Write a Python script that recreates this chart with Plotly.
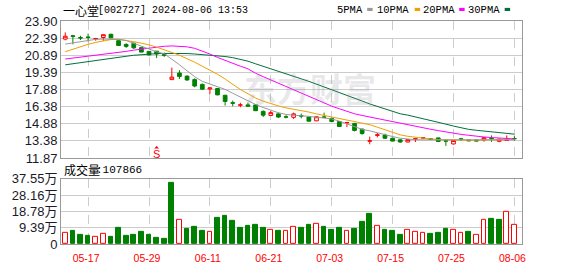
import plotly.graph_objects as go

# ---------------- data ----------------
dates = ["05-14", "05-15", "05-16", "05-17", "05-20", "05-21", "05-22", "05-23", "05-24", "05-27",
         "05-28", "05-29", "05-30", "05-31", "06-03", "06-04", "06-05", "06-06", "06-07", "06-11",
         "06-12", "06-13", "06-14", "06-17", "06-18", "06-19", "06-20", "06-21", "06-24", "06-25",
         "06-26", "06-27", "06-28", "07-01", "07-02", "07-03", "07-04", "07-05", "07-08", "07-09",
         "07-10", "07-11", "07-12", "07-15", "07-16", "07-17", "07-18", "07-19", "07-22", "07-23",
         "07-24", "07-25", "07-26", "07-29", "07-30", "07-31", "08-01", "08-02", "08-05", "08-06"]

opens = [22.31, 22.60, 22.44, 22.49, 22.33, 22.45, 22.73, 22.17, 21.84, 21.95,
         21.56, 21.23, 21.25, 20.95, 18.75, 19.33, 19.06, 18.75, 18.33, 17.93,
         17.97, 17.38, 16.72, 16.50, 16.53, 16.53, 15.96, 15.60, 15.74, 15.48,
         15.44, 15.58, 15.46, 15.13, 15.47, 15.35, 15.07, 14.95, 14.90, 14.40,
         13.34, 13.85, 13.88, 13.60, 13.46, 13.27, 13.52, 13.62, 13.55, 13.63,
         13.38, 13.10, 13.55, 13.45, 13.45, 13.45, 13.58, 13.33, 13.40, 13.58]
highs = [22.90, 22.68, 22.60, 22.79, 22.42, 22.71, 22.79, 22.20, 21.95, 22.00,
         21.60, 21.25, 21.26, 21.12, 19.81, 19.58, 19.10, 18.86, 18.41, 18.03,
         18.00, 17.40, 16.91, 16.72, 16.72, 16.60, 16.05, 16.02, 15.85, 15.63,
         15.85, 15.77, 15.50, 15.55, 15.85, 15.40, 15.10, 15.00, 14.95, 14.45,
         13.74, 14.07, 14.00, 13.65, 13.50, 13.50, 13.60, 13.70, 13.60, 13.65,
         13.48, 13.42, 13.63, 13.48, 13.48, 13.72, 13.85, 13.55, 13.85, 13.78]
lows = [22.20, 21.85, 22.23, 22.09, 22.17, 22.15, 22.40, 21.72, 21.54, 21.45,
        21.15, 20.88, 20.64, 20.75, 18.75, 18.80, 18.65, 18.08, 17.83, 17.50,
        17.38, 16.47, 16.41, 16.32, 16.40, 16.00, 15.46, 15.58, 15.38, 15.35,
        15.30, 15.35, 15.08, 15.10, 15.40, 15.00, 14.60, 14.58, 14.20, 13.90,
        13.07, 13.68, 13.55, 13.33, 13.20, 13.25, 13.27, 13.55, 13.45, 13.30,
        12.93, 13.05, 13.35, 13.35, 13.35, 13.30, 13.28, 13.25, 13.38, 13.37]
closes = [22.56, 22.55, 22.41, 22.46, 22.36, 22.70, 22.42, 21.75, 21.67, 21.54,
          21.17, 20.92, 21.00, 20.89, 18.97, 19.03, 18.72, 18.19, 17.91, 18.02,
          17.41, 16.83, 16.68, 16.53, 16.42, 16.02, 15.63, 15.85, 15.46, 15.46,
          15.74, 15.55, 15.10, 15.49, 15.44, 15.07, 14.63, 14.98, 14.29, 14.02,
          13.38, 13.90, 13.60, 13.35, 13.27, 13.48, 13.55, 13.65, 13.50, 13.32,
          13.35, 13.40, 13.50, 13.38, 13.36, 13.65, 13.55, 13.52, 13.45, 13.56]

ma5 = [21.87, 21.98, 22.10, 22.23, 22.29, 22.31, 22.31, 22.29, 22.19, 21.94,
       21.69, 21.44, 21.19, 21.02, 20.56, 20.06, 19.52, 19.01, 18.60, 18.34,
       18.09, 17.89, 17.55, 17.22, 16.88, 16.57, 16.30, 16.05, 15.84, 15.69,
       15.61, 15.57, 15.52, 15.46, 15.40, 15.30, 15.10, 14.88, 14.63, 14.38,
       14.25, 14.07, 13.90, 13.75, 13.60, 13.52, 13.47, 13.46, 13.46, 13.43,
       13.42, 13.40, 13.42, 13.42, 13.42, 13.43, 13.46, 13.46, 13.47, 13.47]
ma10 = [21.20, 21.44, 21.66, 21.85, 22.02, 22.16, 22.27, 22.29, 22.20, 22.08,
        21.95, 21.81, 21.60, 21.39, 21.14, 20.89, 20.60, 20.28, 19.93, 19.58,
        19.22, 18.80, 18.30, 17.88, 17.51, 17.13, 16.86, 16.63, 16.44, 16.27,
        16.15, 16.05, 15.90, 15.74, 15.60, 15.46, 15.34, 15.21, 15.08, 14.94,
        14.79, 14.57, 14.35, 14.10, 13.90, 13.77, 13.68, 13.60, 13.54, 13.48,
        13.46, 13.43, 13.43, 13.43, 13.44, 13.46, 13.47, 13.47, 13.48, 13.48]
ma20 = [20.56, 20.64, 20.72, 20.81, 20.88, 20.96, 21.03, 21.13, 21.23, 21.34,
        21.44, 21.54, 21.62, 21.68, 21.71, 21.70, 21.63, 21.50, 21.28, 21.00,
        20.70, 20.42, 20.16, 19.93, 19.70, 19.31, 19.01, 18.72, 18.43, 18.14,
        17.84, 17.55, 17.26, 16.97, 16.68, 16.42, 16.19, 15.96, 15.75, 15.60,
        15.46, 15.31, 15.17, 15.03, 14.90, 14.78, 14.64, 14.52, 14.39, 14.27,
        14.14, 14.04, 13.94, 13.86, 13.77, 13.71, 13.66, 13.61, 13.57, 13.54]
ma30 = [20.05, 20.15, 20.25, 20.37, 20.46, 20.55, 20.64, 20.72, 20.80, 20.89,
        20.95, 21.00, 21.03, 21.05, 21.06, 21.06, 21.04, 21.00, 20.96, 20.92,
        20.85, 20.78, 20.68, 20.55, 20.37, 20.14, 19.91, 19.68, 19.47, 19.24,
        19.02, 18.82, 18.60, 18.36, 18.14, 17.90, 17.65, 17.38, 17.13, 16.87,
        16.61, 16.40, 16.17, 15.92, 15.75, 15.63, 15.48, 15.34, 15.17, 15.00,
        14.84, 14.67, 14.50, 14.38, 14.30, 14.23, 14.17, 14.09, 14.03, 13.96]

volume = [6.4, 7.5, 5.3, 4.75, 4.0, 5.7, 4.2, 9.1, 4.75, 5.3,
          6.9, 5.3, 3.7, 3.1, 35.4, 14.0, 8.6, 9.7, 7.5, 6.9,
          15.1, 16.2, 13.5, 9.1, 10.2, 10.8, 9.1, 8.0, 7.5, 7.5,
          9.6, 9.1, 11.3, 11.9, 9.7, 8.0, 9.1, 7.5, 8.6, 13.0,
          17.3, 10.6, 8.0, 7.5, 5.3, 8.4, 6.9, 6.4, 5.8, 6.4,
          8.6, 8.4, 6.4, 6.9, 5.1, 13.9, 14.6, 14.0, 18.3, 10.79]
vol_up = [1, 0, 0, 0, 1, 1, 0, 0, 0, 0,
          0, 0, 0, 0, 0, 1, 0, 0, 0, 1,
          0, 0, 0, 0, 0, 0, 0, 1, 0, 1,
          1, 0, 0, 1, 0, 0, 0, 1, 0, 0,
          0, 1, 0, 0, 0, 1, 1, 1, 0, 0,
          0, 1, 1, 0, 1, 1, 0, 0, 1, 1]

price_ticks = [11.87, 13.38, 14.88, 16.38, 17.88, 19.39, 20.89, 22.39, 23.90]
price_tick_text = ["11.87", "13.38", "14.88", "16.38", "17.88", "19.39", "20.89", "22.39", "23.90"]
vol_ticks = [0, 9.39, 18.78, 28.16, 37.55]
vol_tick_text = ["0", "9.39万", "18.78万", "28.16万", "37.55万"]
date_ticks = dates[3::8]

title_name = "一心堂"
title_rest = "[002727] 2024-08-06 13:53"
vol_label = "成交量"
vol_last = ":107866"
ma_names = ["5PMA", "10PMA", "20PMA", "30PMA"]
ma_colors = ["#9a9a9a", "#f0a000", "#ff00ff", "#00703a"]
watermark = "东方财富"
marker_day = dates[12]

RED = "#ff0000"
GREEN = "#008000"

# ---------------- layout helpers (pixel -> paper) ----------------
W, H = 578, 276
L, R, T, B = 56, 522, 21, 255.5
PRICE_BOTTOM = 165
VOL_TOP = 187


def px(x):
    return (x - L) / (R - L)


def py(y):
    return (B - y) / (B - T)


fig = go.Figure()

# MA lines
for vals, col in zip([ma30, ma20, ma10, ma5], ma_colors[::-1]):
    fig.add_trace(go.Scatter(x=dates, y=vals, mode="lines",
                             line=dict(color=col, width=1), xaxis="x", yaxis="y",
                             hoverinfo="skip"))

fig.add_trace(go.Candlestick(
    x=dates, open=opens, high=highs, low=lows, close=closes,
    increasing=dict(line=dict(color=RED, width=1), fillcolor="white"),
    decreasing=dict(line=dict(color=GREEN, width=1), fillcolor=GREEN),
    whiskerwidth=0, xaxis="x", yaxis="y"))

fig.add_trace(go.Bar(
    x=dates, y=volume, width=0.62,
    marker=dict(color=["white" if u else GREEN for u in vol_up],
                line=dict(color=[RED if u else GREEN for u in vol_up], width=1)),
    xaxis="x2", yaxis="y2"))

axis_common = dict(showline=True, mirror=True, linecolor="#999999", linewidth=1,
                   zeroline=False, ticks="")

fig.update_layout(
    width=W, height=H,
    margin=dict(l=L, r=W - R, t=T, b=H - B, pad=0),
    paper_bgcolor="white", plot_bgcolor="white",
    showlegend=False, hovermode=False,
    bargap=0,
    xaxis=dict(domain=[0, 1], anchor="y", type="category", range=[-0.56, 60.0],
               tickvals=date_ticks, showticklabels=False, showgrid=True,
               gridcolor="#cccccc", griddash="dash", gridwidth=1,
               rangeslider=dict(visible=False), **axis_common),
    yaxis=dict(domain=[py(PRICE_BOTTOM), 1], anchor="x", range=[11.87, 23.90],
               tickvals=price_ticks, ticktext=price_tick_text, showgrid=True,
               gridcolor="#cccccc", gridwidth=1,
               tickfont=dict(family="Liberation Sans", size=13, color="#1a1a2a"),
               **axis_common),
    xaxis2=dict(domain=[0, 1], anchor="y2", type="category", range=[-0.56, 60.0],
                matches="x", tickvals=date_ticks, ticktext=date_ticks, showgrid=True,
                gridcolor="#cccccc", griddash="dash", gridwidth=1,
                tickfont=dict(family="Liberation Sans", size=10.5, color=RED),
                ticklabelshift=-2, ticklabelstandoff=4, **axis_common),
    yaxis2=dict(domain=[0, py(VOL_TOP)], anchor="x2", range=[0, 37.55],
                tickvals=vol_ticks, ticktext=vol_tick_text, showgrid=True,
                gridcolor="#cccccc", gridwidth=1,
                tickfont=dict(family="Liberation Sans, Noto Sans CJK SC", size=13, color="#1a1a2a"),
                **axis_common),
)

ann = []
# title
ann.append(dict(text=title_name, x=px(56.5), y=py(9.5), xref="paper", yref="paper",
                xanchor="left", yanchor="middle", showarrow=False,
                font=dict(family="Noto Sans CJK SC", size=12, color="#000000")))
ann.append(dict(text=title_rest, x=px(91.5), y=py(9.5), xref="paper", yref="paper",
                xanchor="left", yanchor="middle", showarrow=False,
                font=dict(family="Liberation Mono", size=10, color="#000000")))
# legend
legend_text_right = [363, 410, 456, 502]
legend_sq_left = [365.5, 413.5, 458.5, 504.5]
shapes = []
for name, col, xr, xs in zip(ma_names, ma_colors, legend_text_right, legend_sq_left):
    ann.append(dict(text=name, x=px(xr), y=py(9.5), xref="paper", yref="paper",
                    xanchor="right", yanchor="middle", showarrow=False,
                    font=dict(family="Liberation Mono", size=10.5, color="#000000")))
    shapes.append(dict(type="rect", xref="paper", yref="paper",
                       x0=px(xs), x1=px(xs + 5.5), y0=py(10.5), y1=py(7.2),
                       fillcolor=col, line=dict(width=0)))
# volume label
ann.append(dict(text=vol_label, x=px(57.5), y=py(177.5), xref="paper", yref="paper",
                xanchor="left", yanchor="middle", showarrow=False,
                font=dict(family="Noto Sans CJK SC", size=12, color="#000000")))
ann.append(dict(text=vol_last, x=px(89.5), y=py(177.5), xref="paper", yref="paper",
                xanchor="left", yanchor="middle", showarrow=False,
                font=dict(family="Liberation Mono", size=11, color="#000000")))
# watermark
ann.append(dict(text="<b>" + watermark + "</b>", x=px(308), y=py(91), xref="paper", yref="paper",
                xanchor="center", yanchor="middle", showarrow=False,
                font=dict(family="Noto Sans CJK SC", size=33, color="rgba(150,150,160,0.22)")))
# S marker with small up-arrow
ann.append(dict(text="S", x=marker_day, y=py(152.5), xref="x", yref="paper",
                ax=0, ay=8, showarrow=True, arrowhead=1, arrowsize=0.8, arrowwidth=1,
                arrowcolor=RED, standoff=0,
                font=dict(family="Liberation Sans", size=11, color=RED)))

fig.update_layout(annotations=ann, shapes=shapes)

fig.write_html("out.html")
